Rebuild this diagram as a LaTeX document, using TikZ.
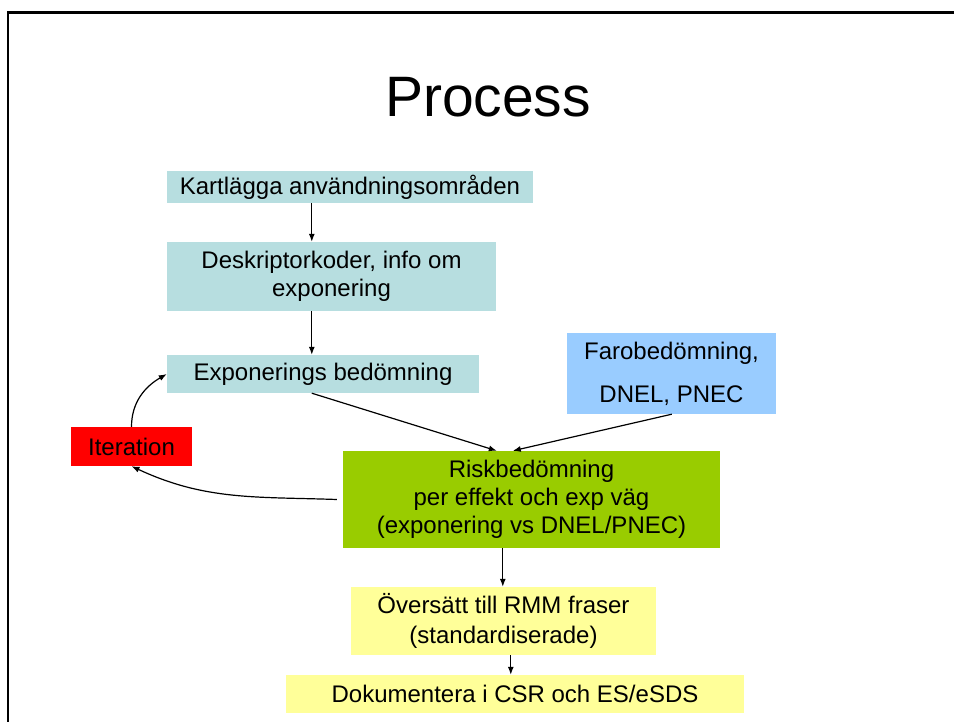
\documentclass[tikz,border=0pt]{standalone}
\usepackage{fontspec}
\setmainfont{Liberation Sans}
\usetikzlibrary{arrows.meta}
\definecolor{stepcyan}{RGB}{183,222,224}
\definecolor{farobla}{RGB}{153,204,255}
\definecolor{riskgron}{RGB}{153,204,0}
\definecolor{rmmgul}{RGB}{255,255,153}
\begin{document}
\begin{tikzpicture}[x=1pt,y=-1pt,
        box/.style={inner sep=0pt, align=center, font=\fontsize{24}{28}\selectfont},
        arr/.style={-{Latex[length=8pt,width=6pt]}, line width=1.2pt}]
                \useasboundingbox (0,0) rectangle (954,722);
                \draw[line width=2.8pt] (8,722) -- (8,12.5) -- (954,12.5);
                \node[font=\fontsize{57}{60}\selectfont, anchor=base] (title) at (488,117) {Process};

                \node[box, fill=stepcyan, minimum width=366pt, minimum height=32pt] (kart) at (350,187) {Kartlägga användningsområden};
                \node[box, fill=stepcyan, minimum width=329pt, minimum height=69pt] (desk) at (331.5,276.5) {Deskriptorkoder, info om\\exponering};
                \node[box, fill=stepcyan, minimum width=312pt, minimum height=38pt] (expo) at (323,374) {Exponerings bedömning};
                \node[box, fill=farobla, minimum width=209pt, minimum height=81pt, font=\fontsize{24}{43}\selectfont] (faro) at (671.5,373.5) {Farobedömning,\\DNEL, PNEC};
                \node[box, fill=red, minimum width=121pt, minimum height=39pt] (iter) at (131.5,446.5) {Iteration};
                \node[box, fill=riskgron, minimum width=377pt, minimum height=97pt] (risk) at (531.5,499.5) {Riskbedömning\\per effekt och exp väg\\(exponering vs DNEL/PNEC)};
                \node[box, fill=rmmgul, minimum width=305pt, minimum height=68pt, font=\fontsize{24}{30}\selectfont] (over) at (503.5,621) {Översätt till RMM fraser\\(standardiserade)};
                \node[box, fill=rmmgul, minimum width=458pt, minimum height=38pt] (doc) at (515,694) {Dokumentera i CSR och ES/eSDS};

                \draw[arr] ([xshift=145pt]kart.south west) -- ([xshift=145pt]desk.north west);
                \draw[arr] ([xshift=145pt]desk.south west) -- ([xshift=145pt]expo.north west);
                \draw[arr] ([xshift=145pt]expo.south west) -- ([xshift=154pt]risk.north west);
                \draw[arr] ([xshift=105pt]faro.south west) -- ([xshift=170pt]risk.north west);
                \draw[arr] ([xshift=-6pt]risk.west) to[out=178,in=-25] (iter.south);
                \draw[arr] (iter.north) to[out=90,in=210] (expo.west);
                \draw[arr] ([xshift=160pt]risk.south west) -- ([xshift=152pt]over.north west);
                \draw[arr] ([xshift=160pt]over.south west) -- ([xshift=225pt]doc.north west);

            \end{tikzpicture}
\end{document}
